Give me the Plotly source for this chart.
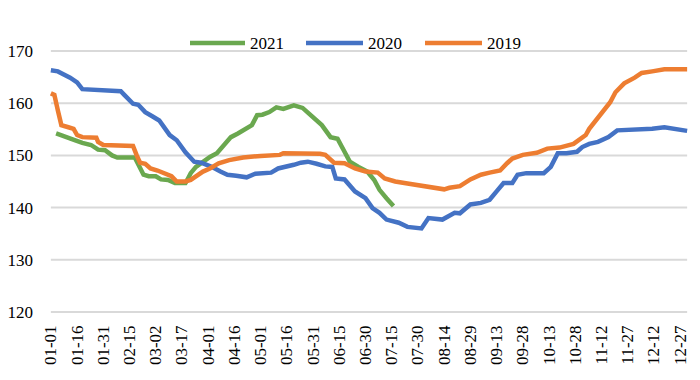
import plotly.graph_objects as go
import pandas as pd

# category axis: every day of the year (MM-DD)
all_days = pd.date_range("2019-01-01", "2019-12-31").strftime("%m-%d").tolist()

tick_labels = ["01-01", "01-16", "01-31", "02-15", "03-02", "03-17", "04-01", "04-16",
               "05-01", "05-16", "05-31", "06-15", "06-30", "07-15", "07-30", "08-14",
               "08-29", "09-13", "09-28", "10-13", "10-28", "11-12", "11-27", "12-12", "12-27"]

dates_2021 = ["01-04", "01-09", "01-15", "01-19", "01-24", "01-28", "02-01", "02-05", "02-08",
              "02-18", "02-20", "02-23", "02-26", "03-02", "03-05", "03-09", "03-13", "03-19",
              "03-20", "03-22", "03-25", "03-29", "04-02", "04-06", "04-09", "04-14", "04-18",
              "04-22", "04-26", "04-29", "05-02", "05-06", "05-10", "05-14", "05-20", "05-25",
              "05-30", "06-01", "06-05", "06-10", "06-14", "06-18", "06-21", "06-26", "07-01",
              "07-05", "07-08", "07-12", "07-16"]
values_2021 = [154.2, 153.7, 152.9, 152.4, 152.0, 151.1, 151.0, 150.0, 149.6,
               149.6, 148.2, 146.3, 146.0, 146.0, 145.4, 145.3, 144.7, 144.7,
               145.3, 146.6, 147.8, 148.8, 149.7, 150.4, 151.6, 153.5, 154.2,
               154.9, 155.8, 157.7, 157.8, 158.3, 159.2, 158.9, 159.6, 159.1,
               157.7, 157.0, 155.8, 153.5, 153.2, 150.7, 148.8, 147.8, 146.9,
               145.3, 143.4, 141.8, 140.3]

dates_2020 = ["01-01", "01-05", "01-12", "01-16", "01-19", "01-31", "02-10", "02-12", "02-17",
              "02-20", "02-24", "02-28", "03-04", "03-10", "03-14", "03-19", "03-24", "03-28",
              "04-03", "04-08", "04-12", "04-17", "04-23", "04-28", "05-02", "05-07", "05-11",
              "05-16", "05-20", "05-24", "05-28", "06-02", "06-07", "06-11", "06-13", "06-18",
              "06-24", "06-30", "07-04", "07-08", "07-12", "07-19", "07-24", "08-01", "08-05",
              "08-13", "08-20", "08-23", "08-29", "09-04", "09-09", "09-13", "09-17", "09-22",
              "09-25", "09-30", "10-10", "10-14", "10-18", "10-23", "10-29", "11-01", "11-05",
              "11-10", "11-16", "11-21", "12-01", "12-11", "12-18", "12-24", "12-31"]
values_2020 = [166.3, 166.1, 164.9, 164.0, 162.7, 162.5, 162.3, 161.6, 159.9,
               159.7, 158.3, 157.5, 156.7, 153.9, 152.9, 150.6, 148.8, 148.6,
               147.8, 146.9, 146.3, 146.1, 145.8, 146.5, 146.5, 146.7, 147.5,
               147.8, 148.2, 148.6, 148.8, 148.4, 147.9, 147.8, 145.6, 145.4,
               143.1, 141.8, 139.9, 139.0, 137.7, 137.1, 136.3, 136.0, 138.0,
               137.7, 139.0, 138.9, 140.6, 140.9, 141.5, 143.1, 144.7, 144.7,
               146.3, 146.6, 146.6, 147.8, 150.4, 150.4, 150.7, 151.6, 152.2,
               152.6, 153.5, 154.8, 154.9, 155.1, 155.4, 155.1, 154.7]

dates_2019 = ["01-01", "01-03", "01-05", "01-07", "01-11", "01-14", "01-16", "01-19", "01-27",
              "01-28", "01-31", "02-17", "02-19", "02-21", "02-24", "02-27", "03-03", "03-07",
              "03-11", "03-14", "03-19", "03-22", "03-25", "03-29", "04-02", "04-07", "04-13",
              "04-21", "05-01", "05-12", "05-14", "05-24", "06-04", "06-07", "06-12", "06-18",
              "06-24", "06-30", "07-07", "07-11", "07-17", "07-24", "08-03", "08-14", "08-17",
              "08-23", "08-29", "09-04", "09-09", "09-15", "09-19", "09-22", "09-28", "10-06",
              "10-12", "10-19", "10-27", "10-31", "11-03", "11-05", "11-08", "11-13", "11-17",
              "11-20", "11-25", "12-01", "12-05", "12-11", "12-18", "12-31"]
values_2019 = [161.9, 161.6, 158.6, 155.8, 155.4, 155.1, 153.9, 153.5, 153.4,
               152.6, 152.0, 151.8, 150.1, 148.6, 148.4, 147.5, 147.1, 146.5,
               146.0, 145.0, 145.0, 145.3, 146.0, 146.9, 147.5, 148.5, 149.1,
               149.6, 149.9, 150.1, 150.4, 150.4, 150.3, 150.1, 148.6, 148.5,
               147.5, 146.9, 146.7, 145.6, 145.0, 144.6, 144.1, 143.5, 143.8,
               144.1, 145.4, 146.3, 146.7, 147.1, 148.5, 149.4, 150.1, 150.5,
               151.3, 151.5, 152.2, 153.2, 153.9, 155.1, 156.4, 158.6, 160.2,
               162.1, 163.8, 164.9, 165.8, 166.1, 166.5, 166.5]

y_ticks = [120, 130, 140, 150, 160, 170]

series_names = ["2021", "2020", "2019"]
series_dates = [dates_2021, dates_2020, dates_2019]
series_values = [values_2021, values_2020, values_2019]
series_colors = ["#6AA84F", "#4472C4", "#ED7D31"]

font_family = "Times New Roman"

fig = go.Figure()

# horizontal gridlines, drawn first so they sit under the data lines
for v in y_ticks:
    fig.add_trace(go.Scatter(x=[all_days[0], all_days[-1]], y=[v, v], mode="lines",
                             line=dict(color="#D9D9D9", width=2),
                             hoverinfo="skip", showlegend=False))

for name, xs, ys, color in zip(series_names, series_dates, series_values, series_colors):
    fig.add_trace(go.Scatter(x=xs, y=ys, name=name, mode="lines",
                             line=dict(color=color, width=4.5), showlegend=False))

# page body adds an 8px offset; layout is expressed in figure pixels
OFF = 8
L, W, T, H = 50 - OFF, 638, 50 - OFF, 263
def px_x(p):
    return (p - OFF - L) / W
def px_y(p):
    return (T + H - (p - OFF)) / H

# legend drawn as line samples + text above the plot (screen pixel positions)
legend_line_x = [(190, 245), (306, 363), (425, 482)]
legend_y = 43
shapes = []
annotations = []
for name, color, (x0, x1) in zip(series_names, series_colors, legend_line_x):
    shapes.append(dict(type="line", xref="paper", yref="paper",
                       x0=px_x(x0), x1=px_x(x1), y0=px_y(legend_y), y1=px_y(legend_y),
                       line=dict(color=color, width=4.5)))
    annotations.append(dict(text=name, xref="paper", yref="paper",
                            x=px_x(x1 + 3), y=px_y(legend_y), xanchor="left", yanchor="middle",
                            showarrow=False,
                            font=dict(family=font_family, size=17, color="#000000")))

fig.update_layout(
    width=700, height=380,
    margin=dict(l=L, r=700 - L - W, t=T, b=380 - T - H, autoexpand=False),
    paper_bgcolor="white", plot_bgcolor="white",
    font=dict(family=font_family, size=17, color="#000000"),
    showlegend=False,
    shapes=shapes, annotations=annotations,
)

fig.update_xaxes(
    type="category", categoryorder="array", categoryarray=all_days,
    range=[-0.5, len(all_days) - 0.5], automargin=False,
    tickmode="array", tickvals=tick_labels, ticktext=tick_labels,
    tickangle=-90, showgrid=False, zeroline=False,
    showline=False, ticks="", ticklabelstandoff=8,
    tickfont=dict(family=font_family, size=17, color="#000000"),
)
fig.update_yaxes(
    range=[119.8, 170.2], tickvals=y_ticks, automargin=False,
    showgrid=False, zeroline=False, showline=False, ticks="", ticklabelstandoff=16,
    tickfont=dict(family=font_family, size=17, color="#000000"),
)

fig.write_html("out.html")
